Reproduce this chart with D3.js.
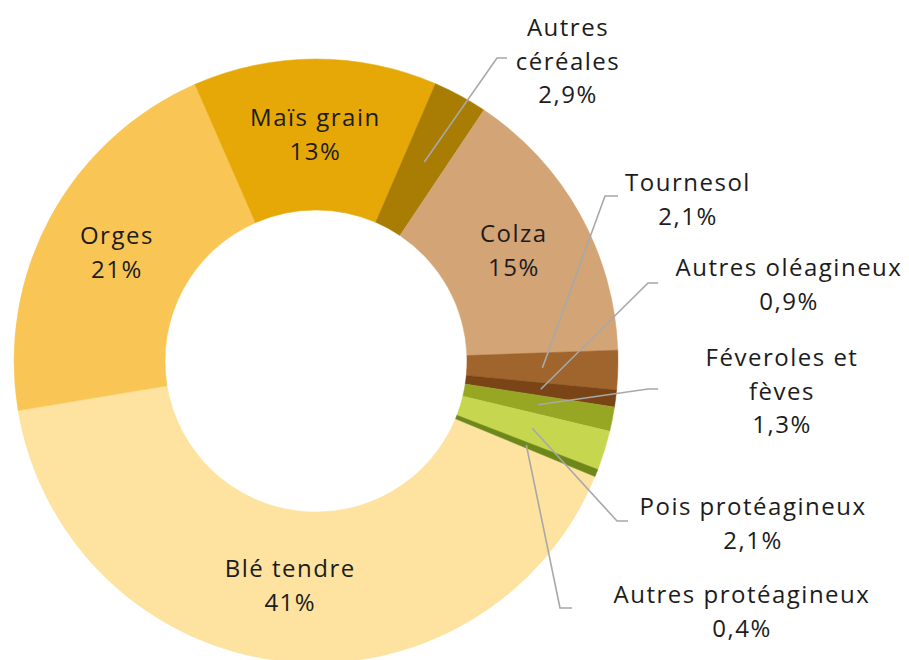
<!DOCTYPE html>
<html lang="fr">
<head>
    <meta charset="UTF-8">
    <title>Répartition des surfaces</title>
    <style>
        body {
            margin: 0;
            background: #fff;
        }

        #chart text {
            font-family: 'Open Sans', sans-serif;
            font-size: 24px;
            letter-spacing: 1.5px;
            fill: #1c1c1c;
        }
    </style>
</head>
<body>
    <div id="chart"></div>

    <script src="https://cdnjs.cloudflare.com/ajax/libs/d3/7.8.5/d3.min.js"></script>
    <script>
        // Data
        const categories = ["Blé tendre", "Orges", "Maïs grain", "Autres céréales", "Colza",
            "Tournesol", "Autres oléagineux", "Féveroles et fèves", "Pois protéagineux",
            "Autres protéagineux"];
        const values = [41, 21, 13, 2.9, 15, 2.1, 0.9, 1.3, 2.1, 0.4];
        const colors = ["#FDE2A0", "#F9C655", "#E6A806", "#A97C03", "#D3A476",
            "#A0652C", "#7A4417", "#97A724", "#C6D64F", "#6D8719"];

        // label text broken into lines
        const labelLines = [
            ["Blé tendre"], ["Orges"], ["Maïs grain"], ["Autres", "céréales"], ["Colza"],
            ["Tournesol"], ["Autres oléagineux"], ["Féveroles et", "fèves"],
            ["Pois protéagineux"], ["Autres protéagineux"]
        ];

        const width = 909, height = 660;
        const cx = 316, cy = 361;
        const outerR = 302, innerR = 151;
        const startDeg = 112.5;

        // where outside labels go: elbow of leader, end of leader, text centre, first line y
        const outside = {
            "Autres céréales":     { elbow: [497, 58],  end: [507, 58],  tx: 568, ty: 28 },
            "Tournesol":           { elbow: [605, 196], end: [618, 196], tx: 688, ty: 183 },
            "Autres oléagineux":   { elbow: [648, 283], end: [658, 283], tx: 789, ty: 268 },
            "Féveroles et fèves":  { elbow: [648, 389], end: [658, 389], tx: 782, ty: 358 },
            "Pois protéagineux":   { elbow: [617, 521], end: [628, 521], tx: 753, ty: 507 },
            "Autres protéagineux": { elbow: [560, 608], end: [572, 608], tx: 742, ty: 595 }
        };
        const lineGap = 33.5;

        const fmt = v => v >= 10 ? d3.format(".0f")(v) + "%" : d3.format(".1f")(v).replace(".", ",") + "%";

        const svg = d3.select("#chart").append("svg")
            .attr("width", width)
            .attr("height", height);

        const g = svg.append("g")
            .attr("transform", `translate(${cx},${cy})`);

        const start = startDeg * Math.PI / 180;
        const pie = d3.pie()
            .sort(null)
            .value(d => d.value)
            .startAngle(start)
            .endAngle(start + 2 * Math.PI);

        const data = categories.map((c, i) => ({ name: c, value: values[i], color: colors[i], lines: labelLines[i] }));
        const arcs = pie(data);

        const arc = d3.arc().innerRadius(innerR).outerRadius(outerR);

        g.selectAll("path.slice")
            .data(arcs)
            .join("path")
            .attr("class", "slice")
            .attr("d", arc)
            .attr("fill", d => d.data.color)
            .attr("stroke", d => d.data.color)
            .attr("stroke-width", 0.5);

        // inside labels
        const inside = arcs.filter(d => !outside[d.data.name]);
        const inLabel = g.selectAll("text.inside")
            .data(inside)
            .join("text")
            .attr("class", "inside")
            .attr("text-anchor", "middle")
            .attr("transform", d => `translate(${arc.centroid(d)})`);
        inLabel.append("tspan").attr("x", 0).attr("y", -17).attr("dy", "0.35em").text(d => d.data.lines[0]);
        inLabel.append("tspan").attr("x", 0).attr("y", 17).attr("dy", "0.35em").text(d => fmt(d.data.value));

        // outside labels with leader lines
        const outs = arcs.filter(d => outside[d.data.name]);

        svg.selectAll("polyline.leader")
            .data(outs)
            .join("polyline")
            .attr("class", "leader")
            .attr("fill", "none")
            .attr("stroke", "#A8A8A8")
            .attr("stroke-width", 1.6)
            .attr("points", d => {
                const c = arc.centroid(d);
                const o = outside[d.data.name];
                return [[c[0] + cx, c[1] + cy], o.elbow, o.end].map(p => p.join(",")).join(" ");
            });

        const outLabel = svg.selectAll("text.outside")
            .data(outs)
            .join("text")
            .attr("class", "outside")
            .attr("text-anchor", "middle");
        outLabel.each(function (d) {
            const o = outside[d.data.name];
            const lines = d.data.lines.concat([fmt(d.data.value)]);
            d3.select(this).selectAll("tspan")
                .data(lines)
                .join("tspan")
                .attr("x", o.tx)
                .attr("y", (t, i) => o.ty + i * lineGap)
                .attr("dy", "0.35em")
                .text(t => t);
        });
    </script>
</body>
</html>
